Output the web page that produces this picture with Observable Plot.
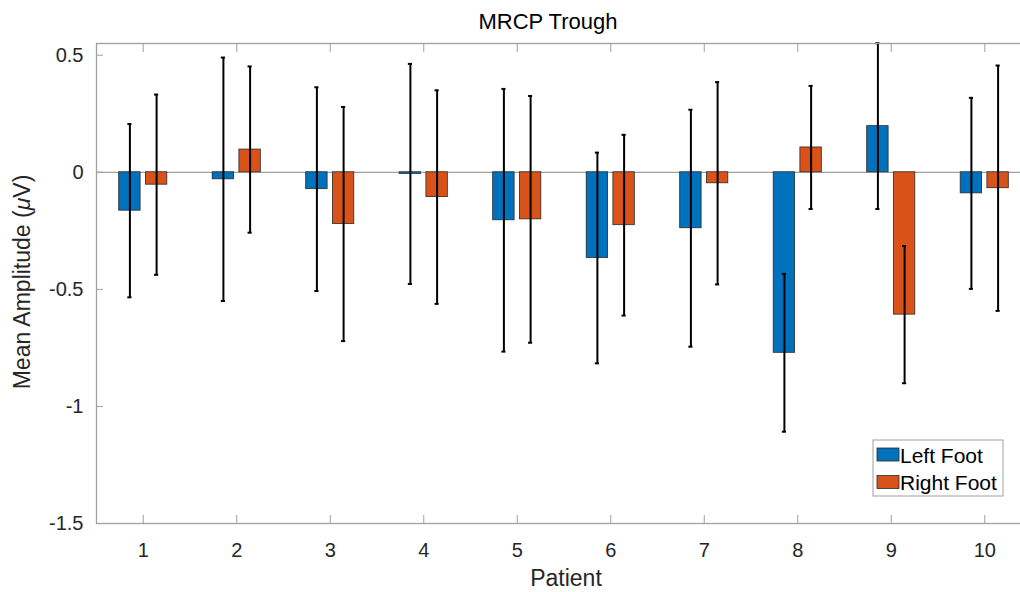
<!DOCTYPE html>
<html><head><meta charset="utf-8">
<script src="https://cdn.jsdelivr.net/npm/d3@7"></script>
<script src="https://cdn.jsdelivr.net/npm/@observablehq/plot@0.6"></script>
<style>
html,body{margin:0;padding:0;background:#fff;overflow:hidden;}
#chart svg{overflow:hidden;display:block;}
</style></head><body><div id="chart"></div>
<script>
const title = "MRCP Trough";
const xLabel = "Patient";
const yLabelParts = ["Mean Amplitude (", "\u03BC", "V)"];
const patients = [1, 2, 3, 4, 5, 6, 7, 8, 9, 10];
const seriesNames = ["Left Foot", "Right Foot"];
const leftMean = [-0.164, -0.030, -0.072, -0.007, -0.205, -0.366, -0.239, -0.771, 0.197, -0.090];
const leftErr  = [0.370, 0.520, 0.435, 0.470, 0.561, 0.450, 0.506, 0.337, 0.354, 0.408];
const rightMean = [-0.053, 0.097, -0.221, -0.106, -0.201, -0.226, -0.047, 0.106, -0.608, -0.068];
const rightErr  = [0.385, 0.355, 0.500, 0.456, 0.527, 0.386, 0.432, 0.263, 0.293, 0.524];
const yTicks = [-1.5, -1, -0.5, 0, 0.5];

const colors = ["#0072BD", "#D95319"];
const offsets = [-0.1428, 0.1428];
const barW = 0.229;
const capHalf = 0.022;
const axisGray = "#a0a0a0";
const textColor = "#262626";
const font = "'Liberation Sans', Arial, Helvetica, sans-serif";

const rows = [];
patients.forEach((p, i) => {
  rows.push({patient: p, series: seriesNames[0], value: leftMean[i], err: leftErr[i], off: offsets[0]});
  rows.push({patient: p, series: seriesNames[1], value: rightMean[i], err: rightErr[i], off: offsets[1]});
});
const cx = d => d.patient + d.off;

const chart = Plot.plot({
  width: 1020, height: 592,
  marginLeft: 96, marginRight: -11, marginTop: 43, marginBottom: 69,
  style: {fontFamily: font, fontSize: "20px", color: textColor, background: "#fff", overflow: "hidden"},
  x: {domain: [0.5, 10.5]},
  y: {domain: [-1.5, 0.55]},
  color: {domain: seriesNames, range: colors},
  marks: [
    Plot.ruleY([0], {stroke: axisGray, strokeWidth: 1.3}),
    Plot.rectY(rows, {x1: d => cx(d) - barW / 2, x2: d => cx(d) + barW / 2, y1: 0, y2: "value", fill: "series", stroke: "#2a2a2a", strokeWidth: 0.8}),
    Plot.ruleX(rows, {x: cx, y1: d => d.value - d.err, y2: d => d.value + d.err, stroke: "#000", strokeWidth: 2}),
    Plot.ruleY(rows, {y: d => d.value + d.err, x1: d => cx(d) - capHalf, x2: d => cx(d) + capHalf, stroke: "#000", strokeWidth: 2}),
    Plot.ruleY(rows, {y: d => d.value - d.err, x1: d => cx(d) - capHalf, x2: d => cx(d) + capHalf, stroke: "#000", strokeWidth: 2}),
    Plot.axisX({anchor: "bottom", ticks: patients, tickSize: 0, tickPadding: 19, label: null, tickFormat: d => String(d), fill: textColor}),
    Plot.axisX({anchor: "bottom", ticks: patients, tickSize: -8, label: null, tickFormat: () => "", stroke: axisGray}),
    Plot.axisX({anchor: "top", ticks: patients, tickSize: -8, label: null, tickFormat: () => "", stroke: axisGray}),
    Plot.axisY({anchor: "left", ticks: yTicks, tickSize: 0, tickPadding: 13, label: null, tickFormat: d => String(d), fill: textColor}),
    Plot.axisY({anchor: "left", ticks: yTicks, tickSize: -7, label: null, tickFormat: () => "", stroke: axisGray}),
    Plot.frame({stroke: axisGray, strokeWidth: 1.3})
  ]
});
document.getElementById("chart").appendChild(chart);

const svg = d3.select(chart);
svg.append("text").attr("x", 548).attr("y", 21).attr("text-anchor", "middle").attr("dominant-baseline", "central")
  .attr("font-family", font).attr("font-size", 22).attr("fill", "#000").text(title);
svg.append("text").attr("x", 566).attr("y", 578).attr("text-anchor", "middle").attr("dominant-baseline", "central")
  .attr("font-family", font).attr("font-size", 23).attr("fill", textColor).text(xLabel);
const yl = svg.append("text").attr("transform", "translate(22,282) rotate(-90)").attr("text-anchor", "middle")
  .attr("dominant-baseline", "central").attr("font-family", font).attr("font-size", 23).attr("fill", textColor);
yl.append("tspan").text(yLabelParts[0]);
yl.append("tspan").attr("font-style", "italic").text(yLabelParts[1]);
yl.append("tspan").text(yLabelParts[2]);

const lg = svg.append("g");
lg.append("rect").attr("x", 873).attr("y", 440).attr("width", 130).attr("height", 56).attr("fill", "#fff").attr("stroke", axisGray).attr("stroke-width", 1);
seriesNames.forEach((name, i) => {
  const y0 = 448 + i * 27.5;
  lg.append("rect").attr("x", 877).attr("y", y0).attr("width", 22).attr("height", 13).attr("fill", colors[i]).attr("stroke", "#2a2a2a").attr("stroke-width", 0.8);
  lg.append("text").attr("x", 900).attr("y", y0 + 7).attr("text-anchor", "start").attr("dominant-baseline", "central")
    .attr("font-family", font).attr("font-size", 21).attr("fill", "#000").text(name);
});
</script></body></html>
